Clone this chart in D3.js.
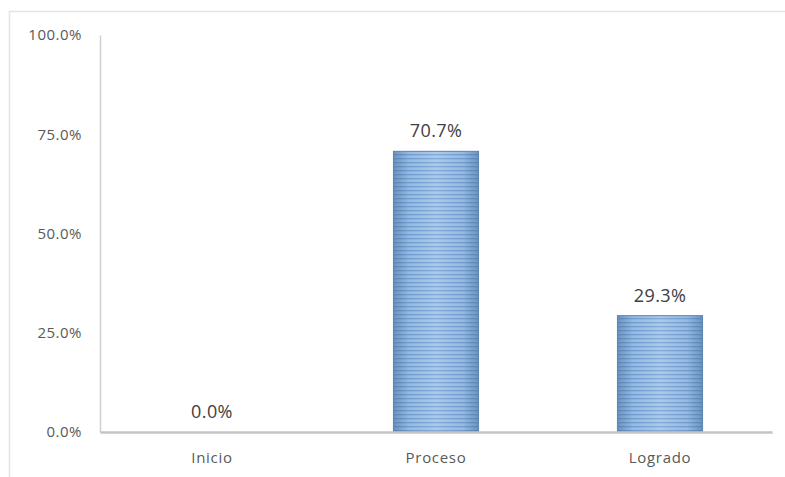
<!DOCTYPE html>
<html>
<head>
<meta charset="utf-8">
<script src="https://cdn.jsdelivr.net/npm/d3@7"></script>
<style>
  body { margin: 0; background: #fff; }
  svg { display: block; font-family: "Open Sans", sans-serif; }
</style>
</head>
<body>
<svg id="chart"></svg>
<script>
var width = 785, height = 477;
var margin = {top: 35, right: 13, bottom: 45, left: 100};

// data
var categories = ["Inicio", "Proceso", "Logrado"];
var values = [0.0, 70.7, 29.3];
var yTicks = [0, 25, 50, 75, 100];

var svg = d3.select("#chart").attr("width", width).attr("height", height);

// light frame
svg.append("path")
    .attr("d", "M9.5," + height + "V11.5H" + width)
    .attr("fill", "none")
    .attr("stroke", "#e4e4e4")
    .attr("stroke-width", 1.5);

var defs = svg.append("defs");

// horizontal stripes for the bars
var pat = defs.append("pattern")
    .attr("id", "stripes")
    .attr("patternUnits", "userSpaceOnUse")
    .attr("width", 10).attr("height", 4);
pat.append("rect").attr("width", 10).attr("height", 4).attr("fill", "#a0c3e9");
pat.append("rect").attr("y", 2).attr("width", 10).attr("height", 1.3).attr("fill", "#74a0d3");

// darker edges left/right
var grad = defs.append("linearGradient").attr("id", "edgeShade")
    .attr("x1", "0").attr("x2", "1").attr("y1", "0").attr("y2", "0");
grad.append("stop").attr("offset", "0").attr("stop-color", "#3f6b9c").attr("stop-opacity", 0.55);
grad.append("stop").attr("offset", "0.18").attr("stop-color", "#3f6b9c").attr("stop-opacity", 0.1);
grad.append("stop").attr("offset", "0.5").attr("stop-color", "#ffffff").attr("stop-opacity", 0.12);
grad.append("stop").attr("offset", "0.82").attr("stop-color", "#3f6b9c").attr("stop-opacity", 0.1);
grad.append("stop").attr("offset", "1").attr("stop-color", "#3f6b9c").attr("stop-opacity", 0.55);

var x = d3.scaleBand()
    .domain(categories)
    .range([margin.left, width - margin.right])
    .paddingInner(0.62)
    .paddingOuter(0.31);

var y = d3.scaleLinear()
    .domain([0, 100])
    .range([height - margin.bottom, margin.top]);

// y axis
var yAxis = svg.append("g")
    .attr("transform", "translate(" + margin.left + ",0)")
    .call(d3.axisLeft(y).tickValues(yTicks).tickSize(0).tickPadding(18)
        .tickFormat(function (d) { return d.toFixed(1) + "%"; }));
yAxis.select(".domain").attr("stroke", "#d0d0d0").attr("stroke-width", 1.5);
yAxis.selectAll("text").attr("fill", "#595959")
    .style("font-size", "15px").style("letter-spacing", "0.5px")
    .style("font-family", "'Open Sans', sans-serif");

// bars
var bars = svg.append("g").selectAll("g.bar")
    .data(values)
    .join("g").attr("class", "bar");

bars.append("rect")
    .attr("x", function (d, i) { return x(categories[i]); })
    .attr("y", function (d) { return y(d); })
    .attr("width", x.bandwidth())
    .attr("height", function (d) { return y(0) - y(d); })
    .attr("fill", "url(#stripes)");

bars.append("rect")
    .attr("x", function (d, i) { return x(categories[i]); })
    .attr("y", function (d) { return y(d); })
    .attr("width", x.bandwidth())
    .attr("height", function (d) { return y(0) - y(d); })
    .attr("fill", "url(#edgeShade)")
    .attr("stroke", function (d) { return d > 0 ? "#5c84b1" : "none"; })
    .attr("stroke-width", 1);

// value labels
svg.append("g").selectAll("text")
    .data(values)
    .join("text")
    .attr("x", function (d, i) { return x(categories[i]) + x.bandwidth() / 2; })
    .attr("y", function (d) { return y(d) - 14; })
    .attr("text-anchor", "middle")
    .attr("fill", "#404040")
    .style("font-size", "18px").style("letter-spacing", "0.4px")
    .text(function (d) { return d.toFixed(1) + "%"; });

// x axis
var xAxis = svg.append("g")
    .attr("transform", "translate(0," + y(0) + ")")
    .call(d3.axisBottom(x).tickSize(0).tickPadding(20));
xAxis.select(".domain").attr("stroke", "#c4c4c4").attr("stroke-width", 2.5);
xAxis.selectAll("text").attr("fill", "#595959")
    .style("font-size", "15px").style("letter-spacing", "0.7px")
    .style("font-family", "'Open Sans', sans-serif");
</script>
</body>
</html>
